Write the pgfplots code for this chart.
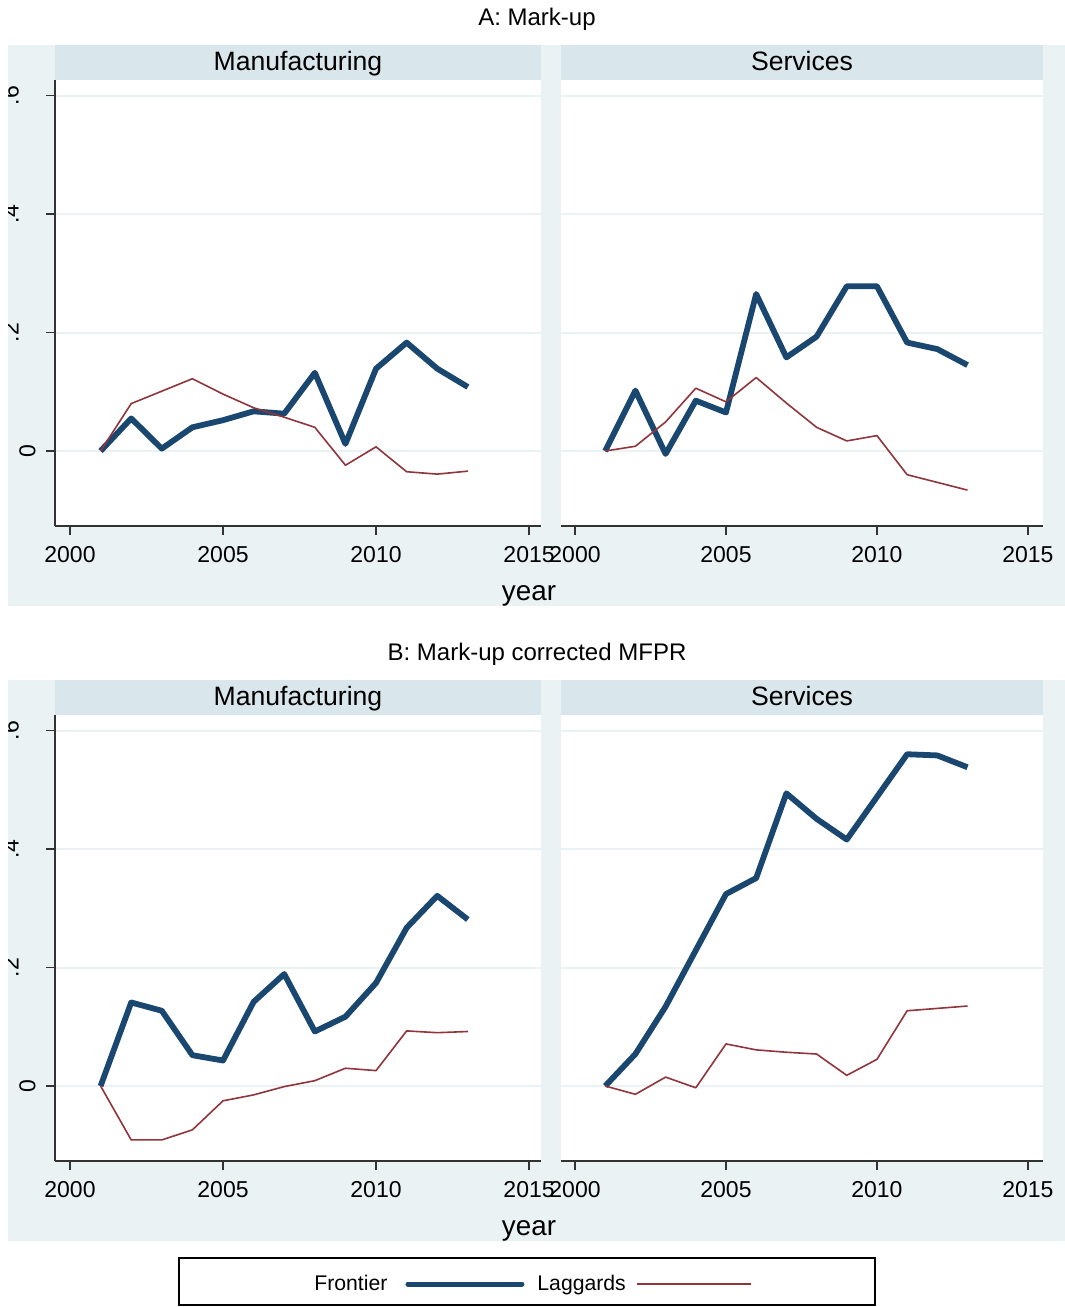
\documentclass[border=0pt]{standalone}
\usepackage{fontspec}
\setmainfont{Liberation Sans}
\usepackage{pgfplots}
\pgfplotsset{compat=1.18}
\definecolor{bg}{HTML}{EAF2F3}
\definecolor{strip}{HTML}{D9E6EB}
\definecolor{gridc}{HTML}{EAF2F3}
\definecolor{front}{HTML}{1A476F}
\definecolor{lag}{HTML}{90353B}
\definecolor{axc}{HTML}{333333}
\pgfplotsset{
  panel/.style={
    scale only axis, height=223pt, ymin=-0.1266, ymax=0.6262,
    axis background/.style={fill=white},
    ytick={0,0.2,0.4,0.6},
    xtick={2000,2005,2010,2015},
    xticklabels={2000,2005,2010,2015},
    tick align=outside, major tick length=4.5pt,
    every tick/.style={axc, line width=0.6pt},
    axis x line*=bottom, axis y line*=left,
    ymajorgrids, major grid style={gridc, line width=1pt},
    axis line style={axc, line width=0.75pt, -},
    xticklabel style={font=\fontsize{11.5}{13}\selectfont, inner sep=0pt, anchor=north},
    xticklabel shift=5.5pt,
    yticklabel style={font=\fontsize{11.5}{13}\selectfont, inner sep=0pt, rotate=90, anchor=south},
    yticklabel shift=5pt,
  },
  leftp/.style={panel, width=243pt, xmin=1999.51, xmax=2015.39,
    yticklabels={0,\raisebox{8.5pt}{.2},\raisebox{8.5pt}{.4},\raisebox{8.5pt}{.6}}},
  rightp/.style={panel, width=241pt, xmin=1999.536, xmax=2015.50,
    yticklabels={}, y axis line style={draw=none}, ytick style={draw=none}},
  fr/.style={front, line width=2.9pt, line join=round},
  lg/.style={lag, line width=0.8pt, line join=round},
}
\begin{document}
\begin{tikzpicture}[x=0.5pt, y=-0.5pt]
\useasboundingbox (0,0) rectangle (1065,1307);
% backgrounds
\fill[bg] (7.5,45) rectangle (1065,606);
\fill[bg] (7.5,680) rectangle (1065,1241);
\fill[strip] (55,45) rectangle (541,80);
\fill[strip] (561,45) rectangle (1043,80);
\fill[strip] (55,680) rectangle (541,715);
\fill[strip] (561,680) rectangle (1043,715);
\node[font=\fontsize{12}{14}\selectfont, anchor=base] at (537,25) {A: Mark-up};
\node[font=\fontsize{12}{14}\selectfont, anchor=base] at (537,660) {B: Mark-up corrected MFPR};
\node[font=\fontsize{13.3}{15}\selectfont, anchor=base] at (298,70) {Manufacturing};
\node[font=\fontsize{13.3}{15}\selectfont, anchor=base] at (802,70) {Services};
\node[font=\fontsize{13.3}{15}\selectfont, anchor=base] at (298,705) {Manufacturing};
\node[font=\fontsize{13.3}{15}\selectfont, anchor=base] at (802,705) {Services};
\node[font=\fontsize{13.9}{16}\selectfont, anchor=base] at (529,600) {year};
\node[font=\fontsize{13.9}{16}\selectfont, anchor=base] at (529,1235) {year};

% Panel A, Manufacturing
\begin{axis}[leftp, at={(27.5pt,-263pt)}, anchor=south west]
\addplot[fr] coordinates {(2001,0) (2002,0.055) (2003,0.004) (2004,0.040) (2005,0.052) (2006,0.067) (2007,0.063) (2008,0.132) (2009,0.012) (2010,0.139) (2011,0.183) (2012,0.139) (2013,0.108)};
\addplot[lg] coordinates {(2001,0) (2002,0.080) (2003,0.101) (2004,0.122) (2005,0.096) (2006,0.073) (2007,0.057) (2008,0.040) (2009,-0.024) (2010,0.007) (2011,-0.035) (2012,-0.039) (2013,-0.034)};
\end{axis}
% Panel A, Services
\begin{axis}[rightp, at={(280.5pt,-263pt)}, anchor=south west]
\addplot[fr] coordinates {(2001,0) (2002,0.102) (2003,-0.005) (2004,0.085) (2005,0.065) (2006,0.265) (2007,0.158) (2008,0.193) (2009,0.278) (2010,0.278) (2011,0.183) (2012,0.172) (2013,0.145)};
\addplot[lg] coordinates {(2001,0) (2002,0.008) (2003,0.049) (2004,0.106) (2005,0.083) (2006,0.124) (2007,0.081) (2008,0.040) (2009,0.017) (2010,0.026) (2011,-0.040) (2012,-0.053) (2013,-0.066)};
\end{axis}
% Panel B, Manufacturing
\begin{axis}[leftp, at={(27.5pt,-580.5pt)}, anchor=south west]
\addplot[fr] coordinates {(2001,0) (2002,0.141) (2003,0.127) (2004,0.052) (2005,0.043) (2006,0.142) (2007,0.189) (2008,0.092) (2009,0.117) (2010,0.174) (2011,0.267) (2012,0.321) (2013,0.281)};
\addplot[lg] coordinates {(2001,0) (2002,-0.091) (2003,-0.091) (2004,-0.074) (2005,-0.025) (2006,-0.015) (2007,-0.001) (2008,0.009) (2009,0.030) (2010,0.026) (2011,0.093) (2012,0.090) (2013,0.092)};
\end{axis}
% Panel B, Services
\begin{axis}[rightp, at={(280.5pt,-580.5pt)}, anchor=south west]
\addplot[fr] coordinates {(2001,0) (2002,0.054) (2003,0.134) (2004,0.229) (2005,0.324) (2006,0.351) (2007,0.494) (2008,0.451) (2009,0.416) (2010,0.488) (2011,0.560) (2012,0.558) (2013,0.538)};
\addplot[lg] coordinates {(2001,0) (2002,-0.014) (2003,0.015) (2004,-0.003) (2005,0.071) (2006,0.061) (2007,0.057) (2008,0.054) (2009,0.018) (2010,0.045) (2011,0.127) (2012,0.131) (2013,0.135)};
\end{axis}

% legend
\draw[black, line width=1pt] (179,1258) rectangle (875,1305);
\begin{axis}[at={(157pt,-642pt)}, anchor=west, scale only axis, width=10pt, height=10pt,
  hide axis, xmin=0, xmax=1, ymin=0, ymax=1,
  legend plot pos=right, legend columns=2,
  legend image code/.code={\draw[#1] (0pt,0pt) -- (57pt,0pt);},
  legend style={at={(0,0.5)}, anchor=west, draw=none, fill=none, inner sep=0pt,
    nodes={inner sep=0pt},
    font=\fontsize{10.6}{12}\selectfont,
    /tikz/every odd column/.style={column sep=9pt},
    /tikz/every even column/.style={column sep=6.5pt}}]
\addlegendimage{front, line width=2.5pt, line cap=round}
\addlegendentry{Frontier}
\addlegendimage{lag, line width=0.8pt}
\addlegendentry{Laggards\kern-4pt\relax}
\end{axis}
\fill[white] (0,0) rectangle (7.5,1307);
\end{tikzpicture}
\end{document}
